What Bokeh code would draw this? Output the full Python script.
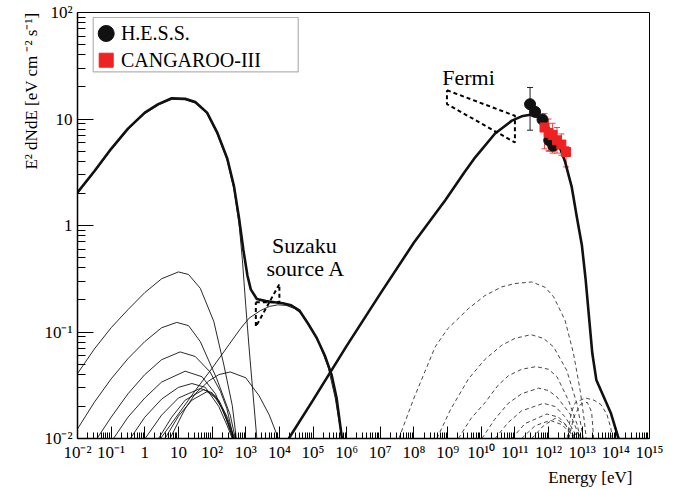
import numpy as np
from bokeh.plotting import figure
from bokeh.models import (FixedTicker, CustomJSTickFormatter, Label, BoxAnnotation,
                          Whisker, TeeHead, ColumnDataSource, Title)
from bokeh.embed import file_html
from bokeh.resources import INLINE

FONT = "Liberation Serif"

# ---------------- tick labels ----------------
x_tick_exponents = list(range(-2, 16))
x_tick_labels = ["10⁻²", "10⁻¹", "1", "10", "10²", "10³", "10⁴", "10⁵", "10⁶", "10⁷",
                 "10⁸", "10⁹", "10¹⁰", "10¹¹", "10¹²", "10¹³", "10¹⁴", "10¹⁵"]
y_tick_exponents = list(range(-2, 3))
y_tick_labels = ["10⁻²", "10⁻¹", "1", "10", "10²"]

# ---------------- curves (log10 E [eV], log10 E^2 dN/dE) ----------------
# total low-energy (synchrotron + second component), thick
total_low_logE = [-2, -1.5, -1, -0.5, 0, 0.4, 0.8, 1.2, 1.5, 1.85, 2.15, 2.45, 2.65, 2.8,
                  2.93, 3.05, 3.15, 3.33, 3.6, 3.85, 4.1, 4.35, 4.6, 4.85, 5.1, 5.35, 5.55, 5.7, 5.86]
total_low_logF = [0.31, 0.51, 0.72, 0.91, 1.06, 1.14, 1.195, 1.19, 1.16, 1.06, 0.875, 0.63, 0.37, 0.07,
                  -0.23, -0.47, -0.6, -0.69, -0.71, -0.72, -0.73, -0.75, -0.8, -0.92, -1.05, -1.22, -1.4, -1.62, -2.0]
# main synchrotron component, thin
sync_logE = [-2, -1.5, -1, -0.5, 0, 0.4, 0.8, 1.2, 1.5, 1.85, 2.15, 2.45, 2.65, 2.8, 2.9, 3.0, 3.1, 3.2, 3.33]
sync_logF = [0.30, 0.50, 0.71, 0.90, 1.05, 1.13, 1.185, 1.18, 1.15, 1.05, 0.86, 0.61, 0.34, 0.02,
             -0.32, -0.75, -1.15, -1.52, -2.0]
# second (X-ray) component, thin
second_logE = [0.47, 1.0, 1.5, 2.0, 2.5, 2.84, 3.1, 3.43, 3.7, 3.95, 4.2, 4.45, 4.7, 4.95, 5.2, 5.45, 5.66, 5.86]
second_logF = [-2.0, -1.77, -1.55, -1.34, -1.12, -0.97, -0.87, -0.80, -0.76, -0.745, -0.75, -0.78,
               -0.84, -0.97, -1.12, -1.33, -1.62, -2.0]
# thin synchrotron sub-components
subA_logE = [-2, -1.5, -1, -0.5, 0, 0.5, 1.0, 1.3, 1.65, 2.05, 2.35, 2.6, 2.72]
subA_logF = [-1.39, -1.16, -0.96, -0.79, -0.63, -0.5, -0.436, -0.46, -0.59, -0.9, -1.31, -1.69, -2.0]
subB_logE = [-2, -1.5, -1, -0.5, 0, 0.5, 0.95, 1.3, 1.65, 2.14, 2.54, 2.69]
subB_logF = [-1.91, -1.66, -1.44, -1.25, -1.09, -0.96, -0.91, -0.94, -1.09, -1.44, -1.78, -2.0]
subC_logE = [-1.42, -1.0, -0.5, 0, 0.5, 1.05, 1.5, 1.94, 2.25, 2.44, 2.64]
subC_logF = [-2.0, -1.8, -1.58, -1.4, -1.26, -1.187, -1.23, -1.375, -1.56, -1.72, -2.0]
subD_logE = [-0.93, -0.5, 0, 0.5, 1.2, 1.7, 2.1, 2.4, 2.62]
subD_logF = [-2.0, -1.8, -1.62, -1.47, -1.368, -1.42, -1.58, -1.8, -2.0]
subE_logE = [-0.43, 0, 0.5, 1.0, 1.4, 1.8, 2.2, 2.45, 2.6]
subE_logF = [-2.0, -1.8, -1.63, -1.52, -1.484, -1.52, -1.7, -1.88, -2.0]
subF_logE = [0.01, 0.5, 1.0, 1.65, 2.0, 2.3, 2.5, 2.62]
subF_logF = [-2.0, -1.78, -1.62, -1.53, -1.57, -1.72, -1.88, -2.0]
subG_logE = [0.41, 0.8, 1.2, 1.75, 2.1, 2.4, 2.65]
subG_logF = [-2.0, -1.8, -1.64, -1.54, -1.6, -1.78, -2.0]
subG2_logE = [0.6, 1.0, 1.4, 1.85, 2.2, 2.45, 2.67]
subG2_logF = [-2.0, -1.79, -1.64, -1.56, -1.64, -1.8, -2.0]
subH_logE = [0.75, 1.2, 1.5, 1.9, 2.2, 2.54, 3.0, 3.4, 3.7, 3.97]
subH_logF = [-2.0, -1.72, -1.58, -1.46, -1.4, -1.375, -1.43, -1.6, -1.78, -2.0]
thin_curves = [(subA_logE, subA_logF), (subB_logE, subB_logF), (subC_logE, subC_logF),
               (subD_logE, subD_logF), (subE_logE, subE_logF), (subF_logE, subF_logF),
               (subG_logE, subG_logF), (subG2_logE, subG2_logF), (subH_logE, subH_logF)]

# inverse-Compton total, thick
ic_logE = [4.28, 5.0, 6.0, 7.0, 8.0, 8.93, 9.5, 9.82, 10.41, 10.91, 11.2, 11.45, 11.7, 11.9, 12.1,
           12.3, 12.49, 12.69, 12.84, 12.99, 13.1, 13.2, 13.3, 13.42, 13.6, 13.85, 14.08]
ic_logF = [-2.0, -1.64, -1.13, -0.64, -0.16, 0.237, 0.50, 0.64, 0.864, 0.985, 1.025, 1.04, 1.02, 0.96,
           0.87, 0.76, 0.6, 0.36, 0.08, -0.185, -0.5, -0.85, -1.2, -1.45, -1.58, -1.76, -2.0]

# inverse-Compton sub-components, dashed
d1_logE = [7.55, 8.0, 8.63, 9.0, 9.62, 10.1, 10.61, 11.0, 11.5, 11.9, 12.15, 12.49, 12.74, 12.94, 13.06, 13.12]
d1_logF = [-2.0, -1.62, -1.14, -0.97, -0.78, -0.66, -0.576, -0.545, -0.53, -0.58, -0.67, -0.89, -1.2, -1.55, -1.83, -2.0]
d2_logE = [8.68, 9.1, 9.62, 10.1, 10.61, 11.0, 11.48, 11.85, 12.15, 12.54, 12.84, 12.99, 13.03]
d2_logF = [-2.0, -1.72, -1.44, -1.26, -1.124, -1.06, -1.025, -1.06, -1.14, -1.36, -1.67, -1.92, -2.0]
d3_logE = [9.32, 9.7, 10.12, 10.5, 10.81, 11.2, 11.63, 12.0, 12.25, 12.59, 12.84, 12.95]
d3_logF = [-2.0, -1.81, -1.66, -1.5, -1.41, -1.35, -1.325, -1.35, -1.42, -1.64, -1.86, -2.0]
d4_logE = [10.02, 10.4, 10.8, 11.2, 11.7, 12.0, 12.25, 12.64, 12.84, 12.92]
d4_logF = [-2.0, -1.82, -1.67, -1.58, -1.527, -1.55, -1.61, -1.77, -1.92, -2.0]
d5_logE = [10.41, 10.8, 11.2, 11.85, 12.2, 12.5, 12.75, 12.85]
d5_logF = [-2.0, -1.85, -1.74, -1.67, -1.7, -1.8, -1.93, -2.0]
d6_logE = [10.91, 11.3, 11.95, 12.3, 12.6, 12.8]
d6_logF = [-2.0, -1.86, -1.77, -1.8, -1.9, -2.0]
d7_logE = [11.2, 11.6, 12.05, 12.4, 12.65, 12.78]
d7_logF = [-2.0, -1.88, -1.83, -1.87, -1.95, -2.0]
d8_logE = [11.5, 11.85, 12.2, 12.5, 12.75]
d8_logF = [-2.0, -1.88, -1.81, -1.87, -2.0]
d9_logE = [12.55, 12.68, 12.8, 13.1, 13.35, 13.55, 13.73, 13.85, 13.9]
d9_logF = [-2.0, -1.75, -1.66, -1.62, -1.64, -1.68, -1.77, -1.9, -2.0]
d10_logE = [12.6, 12.75, 12.95, 13.15, 13.28, 13.34]
d10_logF = [-2.0, -1.8, -1.68, -1.66, -1.75, -2.0]
dashed_curves = [(d1_logE, d1_logF), (d2_logE, d2_logF), (d3_logE, d3_logF), (d4_logE, d4_logF),
                 (d5_logE, d5_logF), (d6_logE, d6_logF), (d7_logE, d7_logF), (d8_logE, d8_logF),
                 (d9_logE, d9_logF), (d10_logE, d10_logF)]

# butterflies (closed outlines)
fermi_logE = [8.98, 11.0, 11.0, 8.98, 8.98]
fermi_logF = [1.27, 1.03, 0.78, 1.14, 1.27]
suzaku_logE = [3.3, 4.0, 4.0, 3.3, 3.3]
suzaku_logF = [-0.72, -0.72, -0.55, -0.95, -0.72]

# measurements
hess_logE = [11.45, 11.6, 11.82, 12.02, 12.14]
hess_logF = [1.139, 1.067, 0.995, 0.80, 0.75]
hess_hi_logF = [1.296, 1.10, 1.03, 0.86, 0.80]
hess_lo_logF = [0.895, 1.03, 0.96, 0.70, 0.70]
cang_logE = [11.88, 12.0, 12.12, 12.25, 12.38, 12.52]
cang_logF = [0.92, 0.87, 0.85, 0.80, 0.76, 0.69]
cang_hi_logF = [1.05, 1.0, 0.96, 0.92, 0.86, 0.74]
cang_lo_logF = [0.72, 0.70, 0.68, 0.68, 0.66, 0.55]


def P(a):
    return np.power(10.0, np.asarray(a, dtype=float))


p = figure(width=675, height=490, x_axis_type="log", y_axis_type="log",
           x_range=(1e-2, 1e15), y_range=(1e-2, 1e2), output_backend="svg",
           toolbar_location=None, title=None,
           min_border_left=77, min_border_right=26, min_border_top=12, min_border_bottom=52)
p.background_fill_color = "white"
p.border_fill_color = "white"
p.outline_line_color = "black"
p.outline_line_width = 1
p.xgrid.visible = False
p.ygrid.visible = False

# ticks
x_minor = [m * 10.0 ** k for k in x_tick_exponents[:-1] for m in range(2, 10)]
y_minor = [m * 10.0 ** k for k in y_tick_exponents[:-1] for m in range(2, 10)]
p.xaxis.ticker = FixedTicker(ticks=[10.0 ** k for k in x_tick_exponents], minor_ticks=x_minor)
p.yaxis.ticker = FixedTicker(ticks=[10.0 ** k for k in y_tick_exponents], minor_ticks=y_minor)
p.xaxis.formatter = CustomJSTickFormatter(args=dict(labels=x_tick_labels, kmin=-2),
    code="const k = Math.round(Math.log10(tick)); const s = labels[k - kmin]; return s === undefined ? '' : s;")
p.yaxis.formatter = CustomJSTickFormatter(args=dict(labels=y_tick_labels, kmin=-2),
    code="const k = Math.round(Math.log10(tick)); const s = labels[k - kmin]; return s === undefined ? '' : s;")

for ax in (p.xaxis[0], p.yaxis[0]):
    ax.major_label_text_font = FONT
    ax.major_label_text_font_size = "17px"
    ax.major_label_text_color = "black"
    ax.axis_line_color = "black"
    ax.axis_line_width = 1.5
    ax.major_tick_out = 0
    ax.minor_tick_out = 0
    ax.major_tick_line_color = "black"
    ax.minor_tick_line_color = "black"
p.xaxis.major_tick_in = 12
p.xaxis.minor_tick_in = 6
p.yaxis.major_tick_in = 16
p.yaxis.minor_tick_in = 8
p.xaxis.major_label_standoff = 4
p.yaxis.major_label_standoff = 5

ylab = Title(text="E² dNdE [eV cm ⁻² s⁻¹]", align="right", text_font=FONT,
             text_font_size="17px", text_font_style="normal", text_color="black", standoff=2)
p.add_layout(ylab, "left")
xlab = Title(text="Energy [eV]", align="right", text_font=FONT, text_font_size="17px",
             text_font_style="normal", text_color="black", standoff=2, offset=17)
p.add_layout(xlab, "below")

# thin curves
for le, lf in thin_curves:
    p.line(P(le), P(lf), line_color="#111111", line_width=0.9)
p.line(P(second_logE), P(second_logF), line_color="#111111", line_width=0.9)
p.line(P(sync_logE), P(sync_logF), line_color="#111111", line_width=0.9)
# dashed components
for le, lf in dashed_curves:
    p.line(P(le), P(lf), line_color="#333333", line_width=0.9, line_dash="4 3")
# thick totals
p.line(P(total_low_logE), P(total_low_logF), line_color="#111111", line_width=2.6)
p.line(P(ic_logE), P(ic_logF), line_color="#111111", line_width=2.6)
# butterflies
p.line(P(fermi_logE), P(fermi_logF), line_color="black", line_width=2, line_dash="4 3")
p.line(P(suzaku_logE), P(suzaku_logF), line_color="black", line_width=2, line_dash="4 3")

# error bars
hsrc = ColumnDataSource(dict(x=P(hess_logE), y=P(hess_logF), hi=P(hess_hi_logF), lo=P(hess_lo_logF)))
csrc = ColumnDataSource(dict(x=P(cang_logE), y=P(cang_logF), hi=P(cang_hi_logF), lo=P(cang_lo_logF)))
p.add_layout(Whisker(source=hsrc, base="x", upper="hi", lower="lo", dimension="height",
                     line_color="#222222", line_width=1,
                     upper_head=TeeHead(size=6, line_color="#222222", line_width=1),
                     lower_head=TeeHead(size=6, line_color="#222222", line_width=1)))
p.add_layout(Whisker(source=csrc, base="x", upper="hi", lower="lo", dimension="height",
                     line_color="#ee4444", line_width=1,
                     upper_head=TeeHead(size=6, line_color="#ee4444", line_width=1),
                     lower_head=TeeHead(size=6, line_color="#ee4444", line_width=1)))
p.scatter("x", "y", source=hsrc, marker="circle", size=11, fill_color="#111111", line_color="#111111")
p.scatter("x", "y", source=csrc, marker="square", size=9, fill_color="#ee2222", line_color="#ee2222")

# text annotations
p.add_layout(Label(x=P(8.84), y=P(1.392), text="Fermi", text_font=FONT, text_font_size="22px",
                   text_align="left", text_baseline="middle", text_color="black"))
p.add_layout(Label(x=P(4.74), y=P(-0.185), text="Suzaku", text_font=FONT, text_font_size="22px",
                   text_align="center", text_baseline="middle", text_color="black"))
p.add_layout(Label(x=P(4.79), y=P(-0.40), text="source A", text_font=FONT, text_font_size="22px",
                   text_align="center", text_baseline="middle", text_color="black"))

# legend (box, markers, texts)
legend_names = ["H.E.S.S.", "CANGAROO-III"]
p.add_layout(BoxAnnotation(left=P(-1.533), right=P(4.56), top=P(1.953), bottom=P(1.442),
                           fill_color="white", fill_alpha=1.0, line_color="black", line_width=1.2,
                           level="underlay"))
p.scatter([P(-1.147)], [P(1.803)], marker="circle", size=16, fill_color="#111111", line_color="#111111")
p.scatter([P(-1.147)], [P(1.552)], marker="square", size=14, fill_color="#ee2222", line_color="#ee2222")
p.add_layout(Label(x=P(-0.71), y=P(1.803), text=legend_names[0], text_font=FONT, text_font_size="20px",
                   text_align="left", text_baseline="middle", text_color="black"))
p.add_layout(Label(x=P(-0.71), y=P(1.552), text=legend_names[1], text_font=FONT, text_font_size="20px",
                   text_align="left", text_baseline="middle", text_color="black"))

open("out.html", "w").write(file_html(p, INLINE))
